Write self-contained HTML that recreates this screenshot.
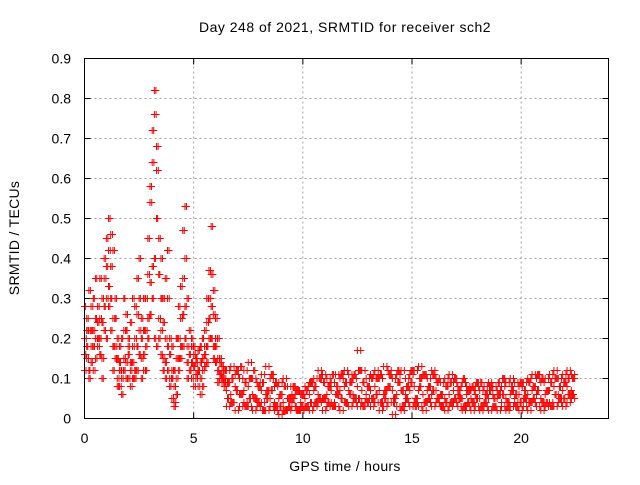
<!DOCTYPE html>
<html><head><meta charset="utf-8"><style>
body{margin:0;background:#fff;width:640px;height:480px;overflow:hidden}
svg{font-family:"Liberation Sans","DejaVu Sans",sans-serif}
</style></head><body>
<svg id="chart" width="640" height="480" viewBox="0 0 640 480" xmlns="http://www.w3.org/2000/svg">
<text x="345" y="32" font-size="14" letter-spacing="0.5" text-anchor="middle">Day 248 of 2021, SRMTID for receiver sch2</text>
<text x="345" y="471" font-size="14" letter-spacing="0.3" text-anchor="middle">GPS time / hours</text>
<text transform="translate(19,238) rotate(-90)" font-size="14" letter-spacing="0.3" text-anchor="middle">SRMTID / TECUs</text>
<g id="grid"></g><g id="ticks"></g><g id="points"></g>
<rect x="84.5" y="58.5" width="524" height="360" fill="none" stroke="#000" stroke-width="1"/>
</svg>
<script>
const xTicks=[0,5,10,15,20];
const yTicks=[0,0.1,0.2,0.3,0.4,0.5,0.6,0.7,0.8,0.9];
const yTickLabels=["0","0.1","0.2","0.3","0.4","0.5","0.6","0.7","0.8","0.9"];
const earlyStart=0.0, earlyStep=0.1;
const earlyA=[0.12,0.25,0.32,0.18,0.22,0.15,0.28,0.35,0.30,0.40,0.45,0.50,0.38,0.42,0.30,0.20,0.12,0.10,0.15,0.26,0.18,0.12,0.30,0.28,0.35,0.40,0.25,0.30,0.22,0.45,0.58,0.72,0.82,0.68,0.45,0.40,0.30,0.35,0.42,0.20,0.12,0.08,0.15,0.28,0.33,0.47,0.53,0.30,0.22,0.18,0.16,0.14,0.12,0.10,0.15,0.22,0.30,0.37,0.48,0.32,0.25,0.20,0.15,0.12,0.10];
const earlyB=[0.20,0.15,0.22,0.28,0.12,0.20,0.18,0.25,0.15,0.35,0.30,0.42,0.46,0.25,0.18,0.10,0.08,0.12,0.22,0.14,0.10,0.08,0.18,0.20,0.26,0.22,0.15,0.12,0.30,0.36,0.54,0.64,0.76,0.62,0.25,0.22,0.15,0.20,0.30,0.10,0.05,0.04,0.10,0.20,0.25,0.35,0.40,0.18,0.12,0.10,0.08,0.10,0.08,0.06,0.12,0.18,0.24,0.30,0.36,0.26,0.20,0.15,0.10,0.09,0.08];
const earlyC=[0.28,0.18,0.12,0.22,0.30,0.25,0.20,0.16,0.24,0.28,0.20,0.33,0.30,0.18,0.25,0.15,0.14,0.20,0.30,0.22,0.16,0.14,0.10,0.12,0.18,0.16,0.20,0.22,0.12,0.20,0.26,0.30,0.40,0.50,0.36,0.30,0.12,0.14,0.18,0.16,0.10,0.12,0.20,0.15,0.18,0.26,0.20,0.14,0.16,0.14,0.13,0.15,0.12,0.18,0.20,0.16,0.18,0.25,0.20,0.18,0.14,0.12,0.11,0.10,0.09];
const earlyD=[0.16,0.22,0.10,0.14,0.18,0.35,0.24,0.20,0.10,0.22,0.38,0.28,0.22,0.12,0.15,0.08,0.18,0.06,0.12,0.10,0.20,0.24,0.14,0.10,0.12,0.30,0.10,0.16,0.18,0.25,0.34,0.38,0.20,0.18,0.20,0.16,0.24,0.10,0.12,0.08,0.18,0.03,0.06,0.12,0.15,0.18,0.28,0.10,0.12,0.20,0.18,0.11,0.17,0.14,0.08,0.13,0.14,0.20,0.28,0.15,0.18,0.09,0.14,0.13,0.12];
const lateStart=6.5, lateStep=0.2;
const lateA=[0.12,0.13,0.11,0.10,0.12,0.14,0.10,0.09,0.11,0.13,0.10,0.08,0.09,0.10,0.08,0.06,0.07,0.06,0.08,0.09,0.10,0.12,0.11,0.10,0.09,0.11,0.10,0.12,0.11,0.10,0.17,0.12,0.10,0.11,0.12,0.10,0.13,0.12,0.10,0.11,0.12,0.10,0.11,0.12,0.13,0.11,0.10,0.12,0.10,0.09,0.10,0.11,0.09,0.08,0.09,0.08,0.07,0.08,0.07,0.08,0.09,0.08,0.07,0.08,0.09,0.10,0.09,0.08,0.09,0.10,0.11,0.10,0.09,0.10,0.11,0.12,0.10,0.11,0.12,0.11];
const lateB=[0.07,0.06,0.08,0.06,0.07,0.08,0.06,0.05,0.07,0.06,0.05,0.04,0.05,0.04,0.05,0.04,0.03,0.04,0.05,0.06,0.07,0.06,0.05,0.06,0.07,0.06,0.07,0.08,0.07,0.06,0.08,0.07,0.06,0.07,0.08,0.07,0.06,0.08,0.07,0.06,0.07,0.06,0.07,0.08,0.07,0.06,0.07,0.06,0.07,0.06,0.05,0.06,0.07,0.06,0.05,0.06,0.05,0.06,0.05,0.04,0.05,0.06,0.05,0.04,0.05,0.06,0.05,0.06,0.05,0.06,0.07,0.06,0.05,0.06,0.07,0.08,0.06,0.07,0.08,0.07];
const lateC=[0.03,0.04,0.02,0.03,0.04,0.03,0.02,0.03,0.04,0.02,0.03,0.02,0.01,0.02,0.02,0.03,0.02,0.02,0.03,0.02,0.03,0.04,0.02,0.03,0.04,0.03,0.02,0.04,0.03,0.04,0.03,0.04,0.05,0.03,0.04,0.02,0.03,0.04,0.01,0.03,0.02,0.04,0.03,0.04,0.03,0.02,0.04,0.03,0.04,0.03,0.02,0.03,0.04,0.03,0.02,0.03,0.02,0.03,0.02,0.03,0.02,0.03,0.02,0.03,0.02,0.03,0.04,0.02,0.03,0.02,0.04,0.03,0.02,0.03,0.04,0.03,0.04,0.03,0.04,0.05];
const lateD=[0.09,0.04,0.12,0.06,0.03,0.10,0.05,0.08,0.02,0.07,0.11,0.03,0.06,0.02,0.05,0.08,0.02,0.06,0.03,0.09,0.04,0.10,0.05,0.08,0.03,0.06,0.11,0.04,0.09,0.05,0.12,0.03,0.08,0.05,0.10,0.04,0.07,0.11,0.05,0.09,0.03,0.08,0.12,0.05,0.10,0.04,0.08,0.11,0.05,0.03,0.08,0.04,0.10,0.05,0.03,0.07,0.04,0.09,0.03,0.06,0.08,0.03,0.06,0.10,0.04,0.07,0.03,0.09,0.05,0.04,0.08,0.11,0.04,0.07,0.03,0.10,0.05,0.09,0.06,0.10];
const lateE=[0.05,0.10,0.07,0.13,0.09,0.05,0.12,0.04,0.09,0.05,0.07,0.09,0.03,0.08,0.03,0.05,0.07,0.03,0.07,0.04,0.08,0.05,0.09,0.04,0.11,0.08,0.05,0.09,0.06,0.11,0.05,0.09,0.04,0.10,0.06,0.11,0.05,0.08,0.04,0.12,0.07,0.05,0.09,0.03,0.08,0.11,0.05,0.07,0.09,0.06,0.04,0.09,0.05,0.07,0.10,0.04,0.08,0.05,0.09,0.04,0.07,0.05,0.09,0.06,0.03,0.08,0.06,0.04,0.07,0.09,0.05,0.07,0.10,0.04,0.09,0.06,0.08,0.05,0.10,0.06];

const X0=84.5,X1=608.5,Y0=418.5,Y1=58.5,XMAX=24,YMAX=0.9;
const xs=v=>X0+(X1-X0)*v/XMAX;
const ys=v=>Y0-(Y0-Y1)*v/YMAX;
const NS="http://www.w3.org/2000/svg";
function mk(tag,attrs,parent){const e=document.createElementNS(NS,tag);for(const k in attrs)e.setAttribute(k,attrs[k]);parent.appendChild(e);return e;}
const grid=document.getElementById('grid'),ticks=document.getElementById('ticks'),pts=document.getElementById('points');
xTicks.forEach(t=>{
  const x=xs(t);
  if(t>0){const g=mk('line',{x1:x,x2:x,y1:Y0,y2:Y1,stroke:'#a0a0a0','stroke-dasharray':'2,3'},grid);
  
  }
  const tk=mk('path',{d:`M${x},${Y0}v-6M${x},${Y1}v6`,stroke:'#000'},ticks);
  
  
  const l=mk('text',{x:x,y:443,'font-size':14,'text-anchor':'middle'},ticks);l.textContent=t;
  
  
});
yTicks.forEach((t,i)=>{
  const y=ys(t);
  if(i>0&&i<yTicks.length-1){const g=mk('line',{x1:X0,x2:X1,y1:y,y2:y,stroke:'#a0a0a0','stroke-dasharray':'2,3'},grid);
  
  }
  const tk=mk('path',{d:`M${X0},${y}h6M${X1},${y}h-6`,stroke:'#000'},ticks);
  
  
  const l=mk('text',{x:71,y:y+5,'font-size':14,'text-anchor':'end'},ticks);l.textContent=yTickLabels[i];
  
  
});
let d='';
function addSeries(arr,start,step){arr.forEach((v,i)=>{const x=xs(start+i*step),y=ys(v);d+=`M${x-3.5},${y}h7M${x},${y-3.5}v7`;});}
[earlyA,earlyB,earlyC,earlyD].forEach(a=>addSeries(a,earlyStart,earlyStep));
[earlyC,earlyD,earlyA,earlyB].forEach((a,k)=>addSeries(a,earlyStart+0.05+k*0.01,earlyStep));
[lateA,lateB,lateC].forEach(a=>addSeries(a,lateStart,lateStep));
[lateD,lateE].forEach(a=>addSeries(a,lateStart+0.05,lateStep));
[lateE,lateD].forEach(a=>addSeries(a,lateStart+0.1,lateStep));
[lateC,lateA,lateD].forEach(a=>addSeries(a,lateStart+0.15,lateStep));
const p=mk('path',{d:d,stroke:'#ff0000','stroke-width':1,fill:'none'},pts);


</script>
</body></html>
